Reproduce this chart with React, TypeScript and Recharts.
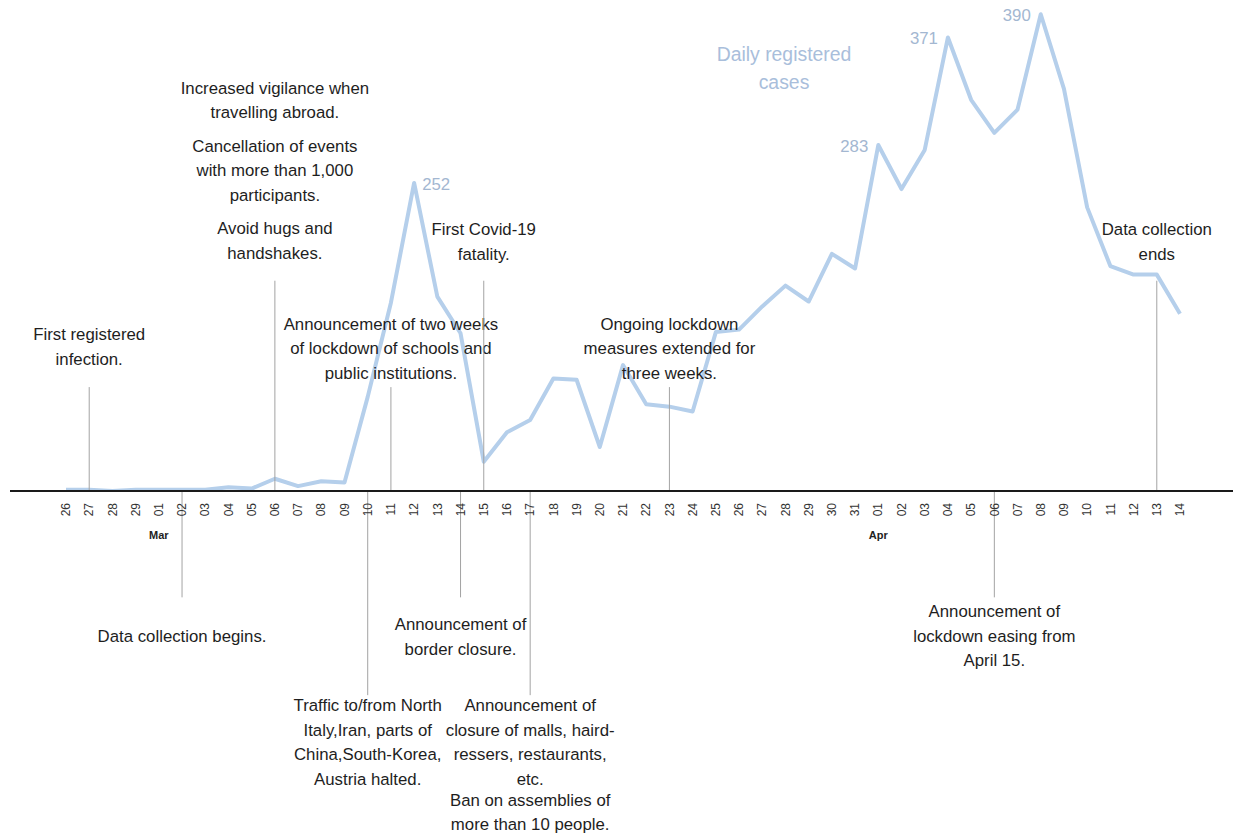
import React from 'react';
import { LineChart, Line, XAxis, YAxis, ReferenceLine, LabelList } from 'recharts';

const FONT = '"Liberation Sans", Arial, sans-serif';

const dates = [
  'Feb 26', 'Feb 27', 'Feb 28', 'Feb 29',
  'Mar 01', 'Mar 02', 'Mar 03', 'Mar 04', 'Mar 05', 'Mar 06', 'Mar 07', 'Mar 08', 'Mar 09', 'Mar 10',
  'Mar 11', 'Mar 12', 'Mar 13', 'Mar 14', 'Mar 15', 'Mar 16', 'Mar 17', 'Mar 18', 'Mar 19', 'Mar 20',
  'Mar 21', 'Mar 22', 'Mar 23', 'Mar 24', 'Mar 25', 'Mar 26', 'Mar 27', 'Mar 28', 'Mar 29', 'Mar 30', 'Mar 31',
  'Apr 01', 'Apr 02', 'Apr 03', 'Apr 04', 'Apr 05', 'Apr 06', 'Apr 07', 'Apr 08', 'Apr 09', 'Apr 10',
  'Apr 11', 'Apr 12', 'Apr 13', 'Apr 14'
];

const cases = [
  1, 1, 0, 1,
  1, 1, 1, 3, 2, 10, 4, 8, 7, 77,
  154, 252, 159, 129, 24, 48, 58, 92, 91, 36,
  103, 71, 69, 65, 130, 132, 151, 168, 155, 194, 182,
  283, 247, 279, 371, 320, 293, 312, 390, 329, 232,
  184, 177, 177, 145
];

// points that carry a value label
const peakLabels = ['Mar 12', 'Apr 01', 'Apr 04', 'Apr 08'];

type Note = { date: string; side: 'above' | 'below'; text: string[][] };

const notes: Note[] = [
  { date: 'Feb 27', side: 'above', text: [['First registered', 'infection.']] },
  { date: 'Mar 02', side: 'below', text: [['Data collection begins.']] },
  {
    date: 'Mar 06',
    side: 'above',
    text: [
      ['Increased vigilance when', 'travelling abroad.'],
      ['Cancellation of events', 'with more than 1,000', 'participants.'],
      ['Avoid hugs and', 'handshakes.']
    ]
  },
  {
    date: 'Mar 10',
    side: 'below',
    text: [['Traffic to/from North', 'Italy,Iran, parts of', 'China,South-Korea,', 'Austria halted.']]
  },
  {
    date: 'Mar 11',
    side: 'above',
    text: [['Announcement of two weeks', 'of lockdown of schools and', 'public institutions.']]
  },
  { date: 'Mar 14', side: 'below', text: [['Announcement of', 'border closure.']] },
  { date: 'Mar 15', side: 'above', text: [['First Covid-19', 'fatality.']] },
  {
    date: 'Mar 17',
    side: 'below',
    text: [
      ['Announcement of', 'closure of malls, haird-', 'ressers, restaurants,', 'etc.'],
      ['Ban on assemblies of', 'more than 10 people.']
    ]
  },
  {
    date: 'Mar 23',
    side: 'above',
    text: [['Ongoing lockdown', 'measures extended for', 'three weeks.']]
  },
  {
    date: 'Apr 06',
    side: 'below',
    text: [['Announcement of', 'lockdown easing from', 'April 15.']]
  },
  { date: 'Apr 13', side: 'above', text: [['Data collection', 'ends']] }
];

// leader length (in case units), gap to text (px), gap between paragraphs (px)
const noteLayout: Record<string, { reach: number; gap: number; paraGap?: number }> = {
  'Feb 27': { reach: 85, gap: 28 },
  'Mar 02': { reach: -87, gap: 39 },
  'Mar 06': { reach: 172, gap: 28, paraGap: 9 },
  'Mar 10': { reach: -167, gap: 10 },
  'Mar 11': { reach: 85, gap: 14 },
  'Mar 14': { reach: -87, gap: 27 },
  'Mar 15': { reach: 172, gap: 27 },
  'Mar 17': { reach: -167, gap: 10, paraGap: -3.5 },
  'Mar 23': { reach: 85, gap: 14 },
  'Apr 06': { reach: -87, gap: 14 },
  'Apr 13': { reach: 172, gap: 27 }
};

const data = dates.map((date, i) => ({ date, cases: cases[i] }));

const LINE_H = 24.5;

const DateTick = (props: any) => {
  const { x, y, payload } = props;
  const [mon, day] = String(payload.value).split(' ');
  const ty = y + 12;
  return (
    <g>
      <text
        x={x}
        y={ty}
        dy="0.35em"
        transform={`rotate(-90 ${x} ${ty})`}
        textAnchor="end"
        fontSize={12}
        fontFamily={FONT}
        fill="#333"
      >
        {day}
      </text>
      {day === '01' && (
        <text x={x} y={y + 48} textAnchor="middle" fontSize={11} fontWeight="bold" fontFamily={FONT} fill="#222">
          {mon}
        </text>
      )}
    </g>
  );
};

const NoteText = (props: any) => {
  const { viewBox, text, side, gap, paraGap = 10 } = props;
  if (!viewBox) return null;
  const { x, y, height } = viewBox;
  const lines: { t: string; off: number }[] = [];
  let off = 0;
  text.forEach((para: string[], pi: number) => {
    if (pi > 0) off += paraGap;
    para.forEach((t) => {
      lines.push({ t, off });
      off += LINE_H;
    });
  });
  const span = off - LINE_H;
  const start = side === 'above' ? y - gap - span : y + height + gap;
  return (
    <g>
      {lines.map((l, i) => (
        <text
          key={i}
          x={x}
          y={start + l.off}
          dy="0.35em"
          textAnchor="middle"
          fontSize={16.8}
          fontFamily={FONT}
          fill="#1e1e1e"
        >
          {l.t}
        </text>
      ))}
    </g>
  );
};

const PeakLabel = (props: any) => {
  const { x, y, index, value } = props;
  const d = dates[index];
  if (!peakLabels.includes(d)) return null;
  const right = d === 'Mar 12';
  return (
    <text
      x={right ? x + 8 : x - 10}
      y={y + 1}
      dy="0.35em"
      textAnchor={right ? 'start' : 'end'}
      fontSize={16.8}
      fontFamily={FONT}
      fill="#a3b7d1"
    >
      {value}
    </text>
  );
};

export default function App() {
  return (
    <div style={{ position: 'absolute', left: 0, top: 0, width: 1233, height: 838, background: '#fff' }}>
      <LineChart width={1233} height={838} data={data} margin={{ top: 2, right: 0, bottom: 317, left: 10 }}>
        <XAxis
          dataKey="date"
          interval={0}
          height={30}
          tick={<DateTick />}
          tickLine={false}
          tickSize={0}
          tickMargin={0}
          axisLine={{ stroke: '#1a1a1a', strokeWidth: 2 }}
          padding={{ left: 56, right: 53 }}
        />
        <YAxis hide domain={[0, 400]} allowDataOverflow />
        <Line
          type="linear"
          dataKey="cases"
          stroke="#b5cfeb"
          strokeWidth={4}
          strokeLinejoin="round"
          dot={false}
          isAnimationActive={false}
        >
          <LabelList dataKey="cases" content={<PeakLabel />} />
        </Line>
        {notes.map((n) => {
          const lay = noteLayout[n.date];
          return (
            <ReferenceLine
              key={n.date}
              segment={[
                { x: n.date, y: 0 },
                { x: n.date, y: lay.reach }
              ]}
              ifOverflow="visible"
              stroke="#a3a3a3"
              strokeWidth={1}
              label={<NoteText text={n.text} side={n.side} gap={lay.gap} paraGap={lay.paraGap} />}
            />
          );
        })}
      </LineChart>
      <div
        style={{
          position: 'absolute',
          left: 684,
          top: 40,
          width: 200,
          textAlign: 'center',
          fontFamily: FONT,
          fontSize: 19.4,
          lineHeight: '28px',
          color: '#a9bedb'
        }}
      >
        Daily registered
        <br />
        cases
      </div>
    </div>
  );
}
